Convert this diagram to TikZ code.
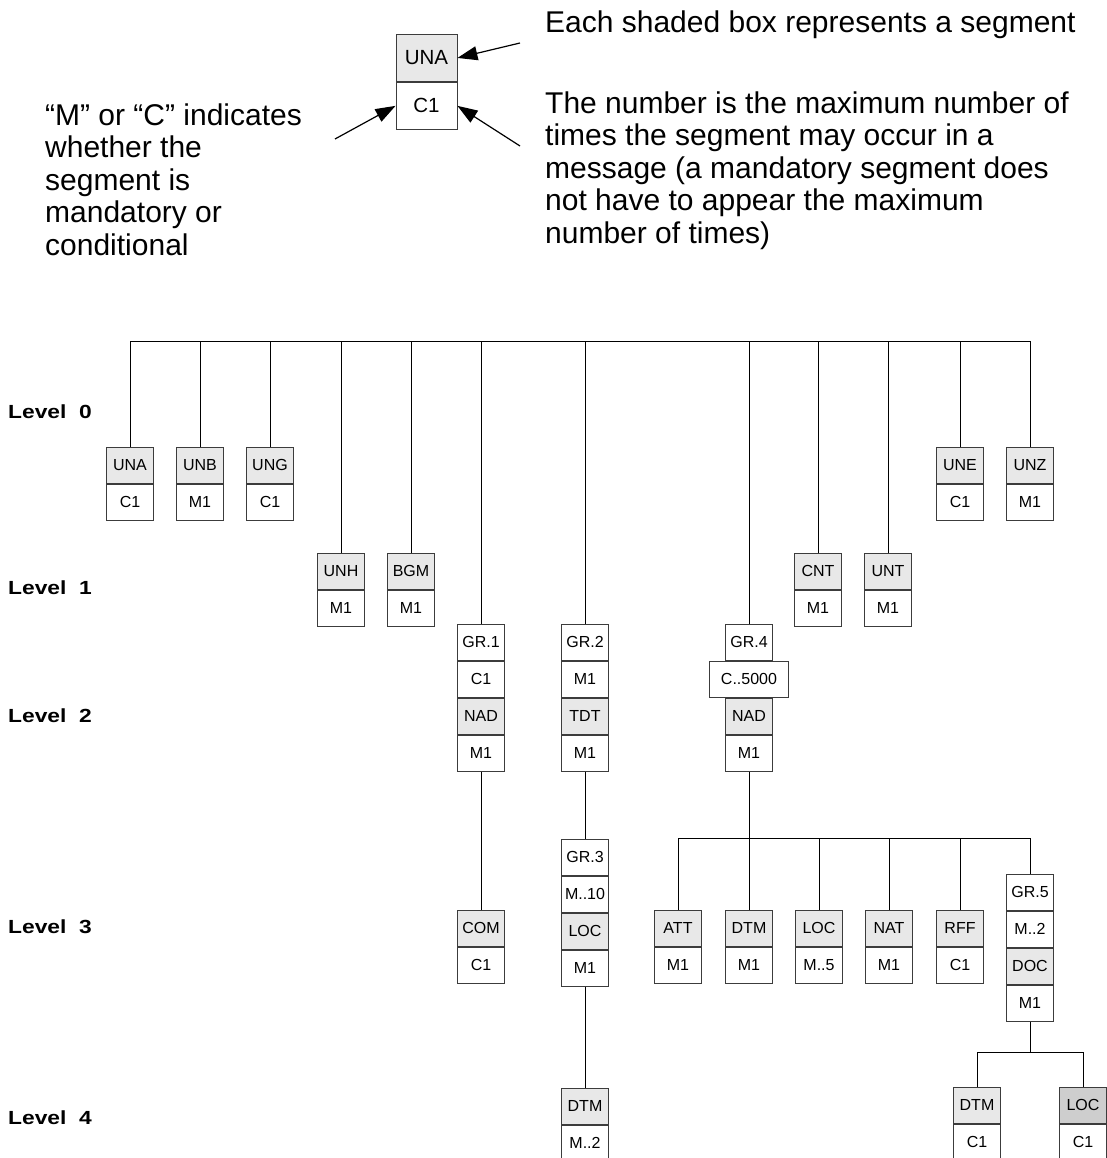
\documentclass[tikz,border=0pt]{standalone}
\usepackage{fontspec}
\setmainfont{Liberation Sans}
\usepackage{graphicx}
\usetikzlibrary{arrows.meta}
\definecolor{segshade}{RGB}{232,232,232}
\definecolor{segdark}{RGB}{206,206,206}
\definecolor{boxline}{RGB}{60,60,60}
\tikzset{
    cell/.style={draw=boxline, line width=0.9pt, minimum width=47pt, minimum height=36pt, inner sep=0pt, font=\fontsize{16}{18}\selectfont},
    segcell/.style={cell, fill=segshade},
    numcell/.style={cell, fill=white},
    link/.style={line width=0.9pt},
    pointer/.style={line width=1.2pt, -{Triangle[length=20pt, width=14pt]}},
    note/.style={align=left, inner sep=0pt, font=\fontsize{30}{32.5}\selectfont},
    levellabel/.style={anchor=west, inner sep=0pt, font=\bfseries\fontsize{19}{22}\selectfont}
}
\begin{document}
\begin{tikzpicture}[x=1pt, y=-1pt]
            \useasboundingbox (0,0) rectangle (1106,1158);

            \node[segcell, minimum width=61pt, minimum height=47pt, font=\fontsize{20.5}{24}\selectfont, anchor=north] (keyseg) at (426.5,34) {UNA};
            \node[numcell, minimum width=61pt, minimum height=47pt, font=\fontsize{20.5}{24}\selectfont, anchor=north] (keynum) at (keyseg.south) {C1};
            \coordinate (tailseg) at (520,43);
            \coordinate (tailmc) at (335,139);
            \coordinate (tailnum) at (520,146);
            \draw[pointer] (tailseg) -- (keyseg.east);
            \draw[pointer] (tailmc) -- (keynum.west);
            \draw[pointer] (tailnum) -- (keynum.east);
            \node[note, anchor=base west] (noteseg) at (545,33) {Each shaded box represents a segment};
            \node[note, anchor=north west] (notenum) at (545,91.5) {The number is the maximum number of\\times the segment may occur in a\\message (a mandatory segment does\\not have to appear the maximum\\number of times)};
            \node[note, anchor=north west] (notemc) at (45,103.5) {“M” or “C” indicates\\whether the\\segment is\\mandatory or\\conditional};

            \node[levellabel] (lvl0) at (8,412) {\scalebox{1.2}[1]{Level\ \ 0}};
            \node[levellabel] (lvl1) at (8,588) {\scalebox{1.2}[1]{Level\ \ 1}};
            \node[levellabel] (lvl2) at (8,716) {\scalebox{1.2}[1]{Level\ \ 2}};
            \node[levellabel] (lvl3) at (8,927) {\scalebox{1.2}[1]{Level\ \ 3}};
            \node[levellabel] (lvl4) at (8,1118) {\scalebox{1.2}[1]{Level\ \ 4}};

            \foreach \id/\nm/\x/\y/\cnt in {una/UNA/130/447/C1, unb/UNB/200/447/M1, ung/UNG/270/447/C1, une/UNE/960/447/C1, unz/UNZ/1030/447/M1,
                    unh/UNH/341/553/M1, bgm/BGM/411/553/M1, cnt/CNT/818/553/M1, unt/UNT/888/553/M1,
                    com/COM/481/910/C1, att/ATT/678/910/M1, dtmc/DTM/749/910/M1, locc/LOC/819/910/M..5, nat/NAT/889/910/M1, rff/RFF/960/910/C1,
                    dtmd/DTM/585/1088/M..2, dtme/DTM/977/1087/C1} {
                \node[segcell, anchor=north] (\id) at (\x,\y) {\nm};
                \node[numcell, anchor=north] (\id-n) at (\id.south) {\cnt};
            }
            \node[segcell, fill=segdark, anchor=north] (loce) at (1083,1087) {LOC};
            \node[numcell, anchor=north] (loce-n) at (loce.south) {C1};

            \foreach \id/\gr/\gn/\w/\x/\y/\nm/\cnt in {gr1/GR.1/C1/47/481/624/NAD/M1, gr2/GR.2/M1/47/585/624/TDT/M1, gr4/GR.4/C..5000/79/749/624/NAD/M1,
                    gr3/GR.3/M..10/47/585/839/LOC/M1, gr5/GR.5/M..2/47/1030/874/DOC/M1} {
                \node[numcell, anchor=north] (\id) at (\x,\y) {\gr};
                \node[numcell, minimum width=\w pt, anchor=north] (\id-r) at (\id.south) {\gn};
                \node[segcell, anchor=north] (\id-s) at (\id-r.south) {\nm};
                \node[numcell, anchor=north] (\id-n) at (\id-s.south) {\cnt};
            }

            \coordinate (bus0) at (0,341);
            \draw[link] (una.north) |- (bus0 -| unz.north) -- (unz.north);
            \foreach \id in {unb, ung, unh, bgm, gr1, gr2, gr4, cnt, unt, une}
                \draw[link] (\id.north) -- (\id.north |- bus0);

            \draw[link] (gr1-n.south) -- (com.north);
            \draw[link] (gr2-n.south) -- (gr3.north);
            \draw[link] (gr3-n.south) -- (dtmd.north);

            \coordinate (bus3) at (0,838);
            \draw[link] (gr4-n.south) -- (gr4-n.south |- bus3);
            \draw[link] (att.north) |- (bus3 -| gr5.north) -- (gr5.north);
            \foreach \id in {dtmc, locc, nat, rff}
                \draw[link] (\id.north) -- (\id.north |- bus3);

            \coordinate (bus4) at (0,1052);
            \draw[link] (gr5-n.south) -- (gr5-n.south |- bus4);
            \draw[link] (dtme.north) |- (bus4 -| loce.north) -- (loce.north);
\end{tikzpicture}
\end{document}
